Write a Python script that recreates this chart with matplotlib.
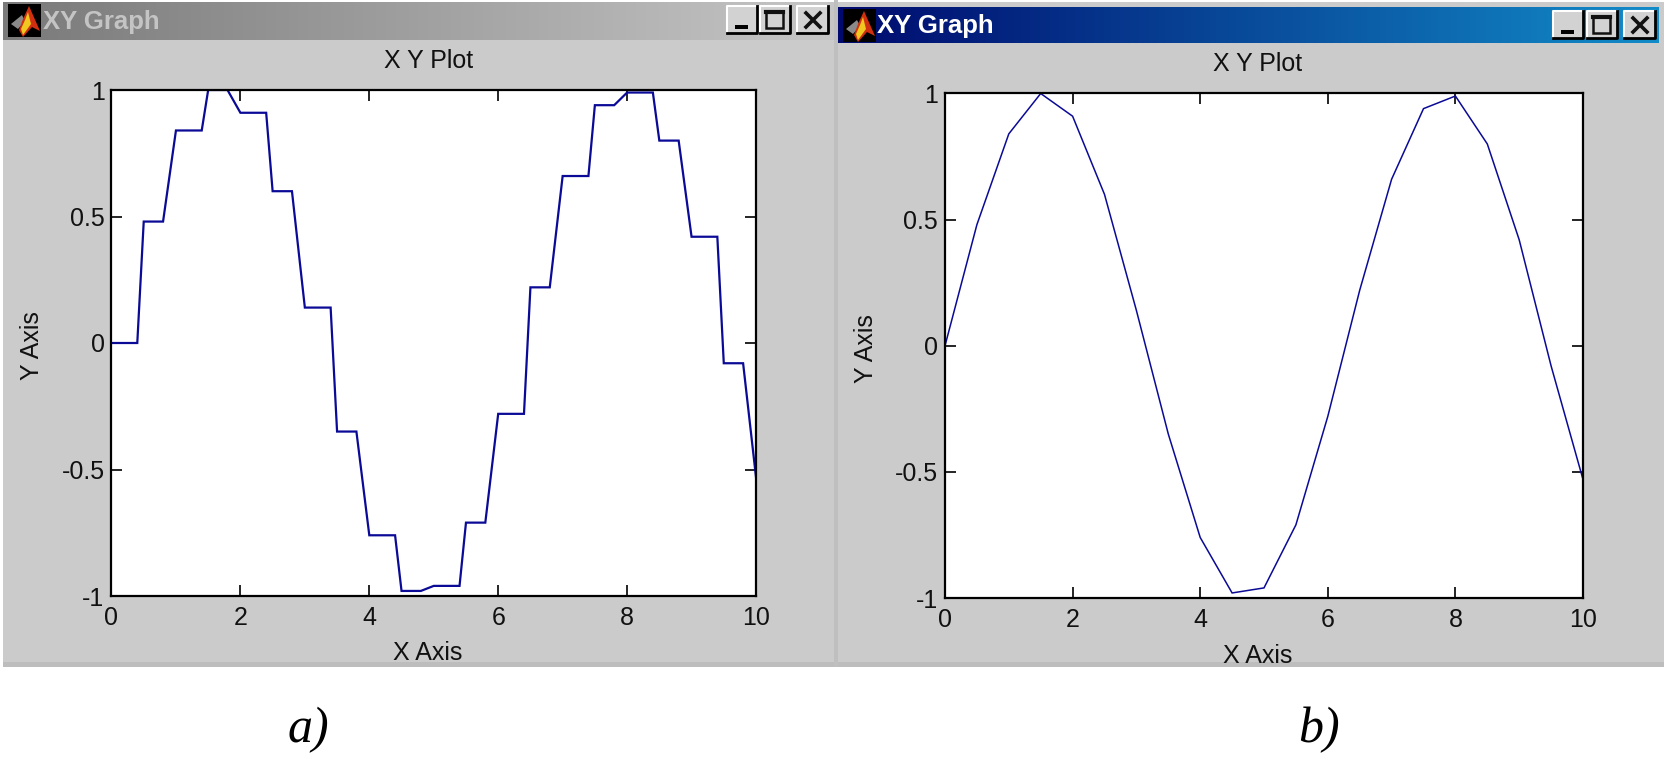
import numpy as np
import matplotlib
matplotlib.use('Agg')
from matplotlib import pyplot as plt
from matplotlib.patches import Rectangle, Polygon

W, H = 1665, 763

# continuous curve, window b
x_b = [0, 0.5, 1, 1.5, 2, 2.5, 3, 3.5, 4, 4.5, 5, 5.5, 6, 6.5, 7, 7.5, 8, 8.5, 9, 9.5, 10]
y_b = [0, 0.48, 0.84, 1.0, 0.91, 0.60, 0.14, -0.35, -0.76, -0.98, -0.96, -0.71, -0.28, 0.22, 0.66, 0.94, 0.99, 0.80, 0.42, -0.08, -0.53]

# stepped curve, window a
x_a = [0, 0.4, 0.5, 0.8, 1.0, 1.4, 1.5, 1.8, 2.0, 2.4, 2.5, 2.8, 3.0, 3.4, 3.5, 3.8, 4.0, 4.4, 4.5, 4.8,
       5.0, 5.4, 5.5, 5.8, 6.0, 6.4, 6.5, 6.8, 7.0, 7.4, 7.5, 7.8, 8.0, 8.4, 8.5, 8.8, 9.0, 9.4, 9.5, 9.8, 10]
y_a = [0, 0, 0.48, 0.48, 0.84, 0.84, 1.0, 1.0, 0.91, 0.91, 0.60, 0.60, 0.14, 0.14, -0.35, -0.35, -0.76, -0.76, -0.98, -0.98,
       -0.96, -0.96, -0.71, -0.71, -0.28, -0.28, 0.22, 0.22, 0.66, 0.66, 0.94, 0.94, 0.99, 0.99, 0.80, 0.80, 0.42, 0.42, -0.08, -0.08, -0.53]

x_ticks = [0, 2, 4, 6, 8, 10]
y_ticks = [-1, -0.5, 0, 0.5, 1]
y_labels = ['-1', '-0.5', '0', '0.5', '1']

GREY = '#cbcbcb'
FONT = 'Liberation Sans'
FS = 18

fig = plt.figure(figsize=(W / 100, H / 100), dpi=100, facecolor='white')

# pixel-coordinate layer for the window chrome
bg = fig.add_axes([0, 0, 1, 1])
bg.axis('off')


def button(x0, x1, y0, y1):
    bg.add_patch(Rectangle((x0, y0), x1 - x0, y1 - y0, fc='#d2d2d2', ec='none', zorder=5))
    bg.plot([x0, x0, x1], [y1, y0, y0], color='white', lw=1.5, zorder=6)
    bg.plot([x0, x1, x1], [y1, y1, y0], color='black', lw=2, zorder=6)


def window(x0, x1, y0, y1, bar_x0, bar_x1, bar_top, bar_bot, c0, c1, title_col, title_x, icon_x, btn_x):
    bg.add_patch(Rectangle((x0, y0), x1 - x0, y1 - y0, fc=GREY, ec='none', zorder=1))
    bg.add_patch(Rectangle((x0, y1 - 5), x1 - x0, 5, fc='#bdbdbd', ec='none', zorder=1))
    grad = np.linspace(0, 1, 256)[None, :, None] * (np.array(c1) - np.array(c0)) + np.array(c0)
    bg.imshow(grad / 255.0, extent=(bar_x0, bar_x1, bar_bot, bar_top), aspect='auto', zorder=2)
    # matlab icon
    ix, iy = icon_x, bar_top + 2
    bg.add_patch(Rectangle((ix, iy), 33, 33, fc='black', ec='none', zorder=3))
    bg.add_patch(Polygon([[ix + 3, iy + 20], [ix + 14, iy + 11], [ix + 17, iy + 17], [ix + 10, iy + 25]],
                         fc='#8a8a8a', ec='none', zorder=4))
    bg.add_patch(Polygon([[ix + 21, iy + 2], [ix + 32, iy + 27], [ix + 24, iy + 23], [ix + 15, iy + 33], [ix + 11, iy + 26], [ix + 15, iy + 15]],
                         fc='#d03010', ec='none', zorder=4))
    bg.add_patch(Polygon([[ix + 20, iy + 8], [ix + 23, iy + 20], [ix + 15, iy + 31], [ix + 13, iy + 25], [ix + 17, iy + 16]],
                         fc='#f0c820', ec='none', zorder=5))
    bg.text(title_x, (bar_top + bar_bot) / 2 + 1, 'XY Graph', color=title_col, fontsize=18.5, family=FONT,
            weight='bold', ha='left', va='center', zorder=5)
    # window buttons
    b0, b1, b2 = btn_x
    by0, by1 = bar_top + 4, bar_top + 31
    button(b0, b0 + 30, by0, by1)
    button(b1, b1 + 30, by0, by1)
    button(b2, b2 + 31, by0, by1)
    bg.add_patch(Rectangle((b0 + 8, by1 - 8), 13, 3.5, fc='black', ec='none', zorder=7))
    bg.add_patch(Rectangle((b1 + 6, by0 + 5), 17, 17, fc='none', ec='#111111', lw=1.8, zorder=7))
    bg.plot([b1 + 6, b1 + 23], [by0 + 6, by0 + 6], color='#111111', lw=3, zorder=7)
    bg.plot([b2 + 9, b2 + 23], [by0 + 7, by0 + 21], color='#111111', lw=2.6, zorder=7)
    bg.plot([b2 + 9, b2 + 23], [by0 + 21, by0 + 7], color='#111111', lw=2.6, zorder=7)


bg.add_patch(Rectangle((834, 0), 4, 667, fc='#bfbfbf', ec='none', zorder=1))
window(3, 834, 2, 667, 3, 834, 2, 40, (122, 122, 122), (198, 198, 198), '#c4c4c4', 43, 8, (727, 760, 797))
window(838, 1665, 2, 667, 838, 1659, 7, 43, (0, 10, 110), (18, 140, 200), 'white', 877, 843, (1553, 1587, 1624))
bg.set_xlim(0, W)
bg.set_ylim(H, 0)

bg.text(308, 730, 'a)', fontsize=36, family='Liberation Serif', style='italic', ha='center', va='center')
bg.text(1319, 730, 'b)', fontsize=36, family='Liberation Serif', style='italic', ha='center', va='center')


def panel(x0, x1, y0, y1, xs, ys, lw, ylab_x, title_x, title_y, xlab_x, xlab_y):
    ax = fig.add_axes([x0 / W, 1 - y1 / H, (x1 - x0) / W, (y1 - y0) / H], facecolor='white')
    ax.plot(xs, ys, color='#0a0a96', lw=lw, solid_joinstyle='miter')
    ax.set_xlim(0, 10)
    ax.set_ylim(-1, 1)
    ax.set_xticks(x_ticks)
    ax.set_yticks(y_ticks)
    ax.set_yticklabels(y_labels)
    ax.tick_params(which='both', direction='in', length=8, width=1.2, top=True, right=True, labelsize=FS)
    ax.tick_params(axis='x', pad=7)
    ax.tick_params(axis='y', pad=5)
    for lab in ax.get_xticklabels() + ax.get_yticklabels():
        lab.set_family(FONT)
        lab.set_color('#111111')
    for s in ax.spines.values():
        s.set_linewidth(1.6)
    bg.text(title_x, title_y, 'X Y Plot', fontsize=FS, family=FONT, color='#111111', ha='center', va='center', zorder=6)
    bg.text(xlab_x, xlab_y, 'X Axis', fontsize=FS, family=FONT, color='#111111', ha='center', va='center', zorder=6)
    bg.text(ylab_x, (y0 + y1) / 2 + 3, 'Y Axis', fontsize=FS, family=FONT, color='#111111', rotation=90, ha='center', va='center', zorder=6)
    return ax


panel(111.5, 756, 90, 596, x_a, y_a, 1.6, 32, 429, 61, 428, 653)
panel(945, 1583, 93.5, 598, x_b, y_b, 1.1, 866, 1258, 64, 1258, 656)

plt.savefig('out.png', dpi=100)
plt.clf()
